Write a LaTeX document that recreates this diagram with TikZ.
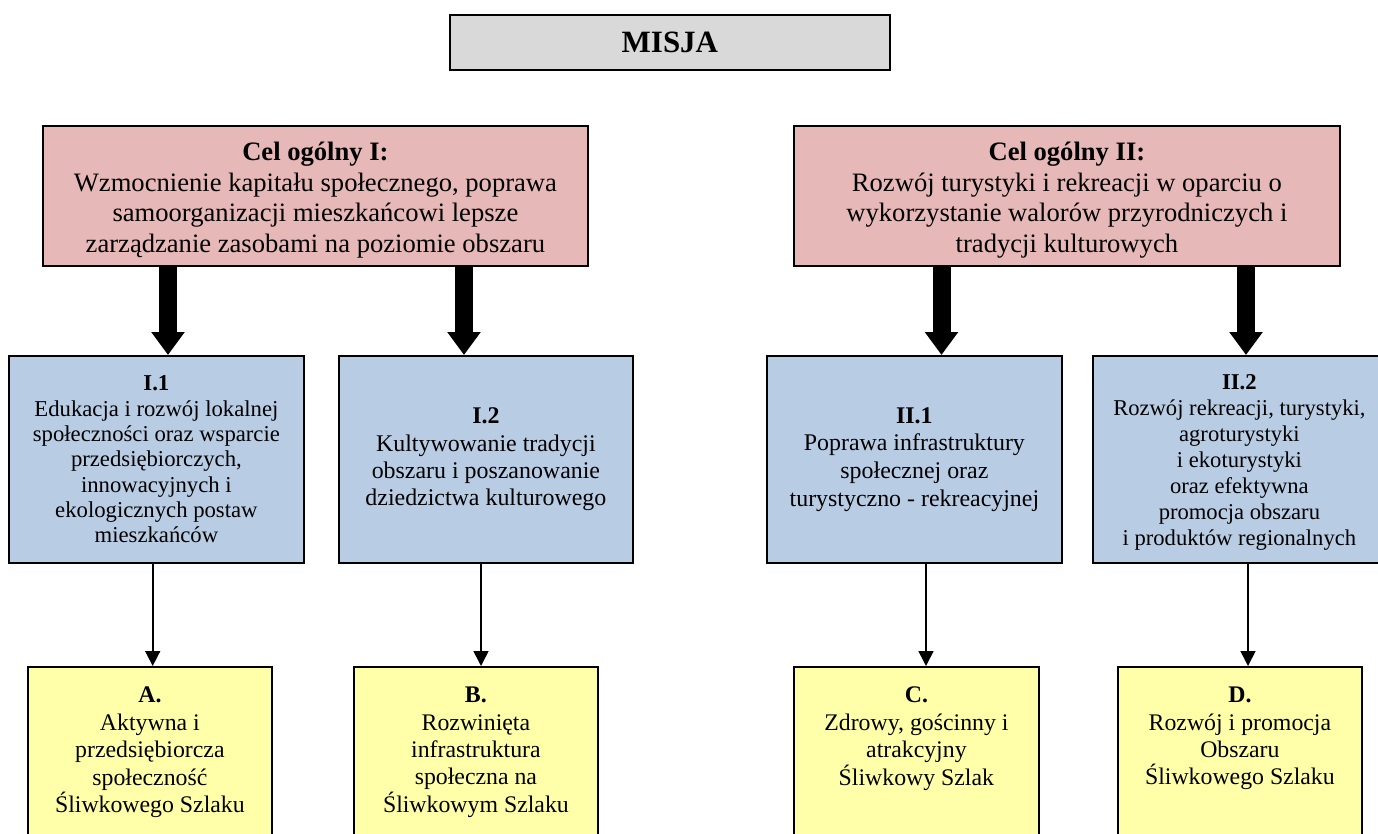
\documentclass[tikz,border=0pt]{standalone}
\usepackage{fontspec}
\setmainfont{Liberation Serif}
\usetikzlibrary{arrows.meta}
\definecolor{misjagray}{HTML}{D9D9D9}
\definecolor{celred}{HTML}{E6B8B7}
\definecolor{priblue}{HTML}{B8CCE4}
\definecolor{goalyellow}{HTML}{FFFFAA}
\begin{document}
\begin{tikzpicture}[x=1pt,y=-1pt,
  boxbase/.style={draw=black, line width=1.8pt, inner sep=0pt, align=center, anchor=north west, text=black},
  misjabox/.style={boxbase, fill=misjagray, font={\fontsize{31pt}{36pt}\selectfont\bfseries}},
  celbox/.style={boxbase, fill=celred, minimum height=140pt, font={\fontsize{26.6pt}{30.6pt}\selectfont}},
  pribox/.style={boxbase, fill=priblue, minimum height=207pt},
  goalbox/.style={boxbase, fill=goalyellow, minimum height=250pt},
  goaltext/.style={inner sep=0pt, align=center, anchor=north, text=black, font={\fontsize{23.8pt}{27.4pt}\selectfont}},
  bigarrow/.style={line width=18pt, -{Triangle[length=23pt,width=32pt]}},
  smallarrow/.style={line width=1.6pt, -{Triangle[length=15pt,width=15pt]}}]
\useasboundingbox (0,0) rectangle (1378,834);

\node[misjabox, minimum width=440pt, minimum height=55pt] (misja) at (449,14) {MISJA};

\node[celbox, minimum width=545pt] (cel1) at (42,125) {\rule{0pt}{26.6pt}\textbf{Cel ogólny I:}\\Wzmocnienie kapitału społecznego, poprawa\\samoorganizacji mieszkańcowi lepsze\\zarządzanie zasobami na poziomie obszaru};
\node[celbox, minimum width=546pt] (cel2) at (793,125) {\rule{0pt}{26.6pt}\textbf{Cel ogólny II:}\\Rozwój turystyki i rekreacji w oparciu o\\wykorzystanie walorów przyrodniczych i\\tradycji kulturowych};

\node[pribox, minimum width=295pt, font={\fontsize{22.7pt}{25.3pt}\selectfont}] (p11) at (8,355) {\textbf{I.1}\\Edukacja i rozwój lokalnej\\społeczności oraz wsparcie\\przedsiębiorczych,\\innowacyjnych i\\ekologicznych postaw\\mieszkańców};
\node[pribox, minimum width=294pt, font={\fontsize{23.9pt}{27.4pt}\selectfont}] (p12) at (338,355) {\textbf{I.2}\\Kultywowanie tradycji\\obszaru i poszanowanie\\dziedzictwa kulturowego};
\node[pribox, minimum width=295pt, font={\fontsize{23.9pt}{27.8pt}\selectfont}] (p21) at (766,355) {\textbf{II.1}\\Poprawa infrastruktury\\społecznej oraz\\turystyczno - rekreacyjnej};
\node[pribox, minimum width=293pt, font={\fontsize{22.6pt}{26.1pt}\selectfont}] (p22) at (1092,355) {\rule{0pt}{21.3pt}\textbf{II.2}\\Rozwój rekreacji, turystyki,\\agroturystyki\\i ekoturystyki\\oraz efektywna\\promocja obszaru\\i produktów regionalnych};

\node[goalbox, minimum width=244pt] (ga) at (27,666) {};
\node[goalbox, minimum width=244pt] (gb) at (353,666) {};
\node[goalbox, minimum width=245pt] (gc) at (793,666) {};
\node[goalbox, minimum width=244pt] (gd) at (1117,666) {};
\node[goaltext] (ta) at ([yshift=-21pt]ga.north) {\textbf{A.}\\Aktywna i\\przedsiębiorcza\\społeczność\\Śliwkowego Szlaku};
\node[goaltext] (tb) at ([yshift=-21pt]gb.north) {\textbf{B.}\\Rozwinięta\\infrastruktura\\społeczna na\\Śliwkowym Szlaku};
\node[goaltext] (tc) at ([yshift=-21pt]gc.north) {\textbf{C.}\\Zdrowy, gościnny i\\atrakcyjny\\Śliwkowy Szlak};
\node[goaltext] (td) at ([yshift=-21pt]gd.north) {\textbf{D.}\\Rozwój i promocja\\Obszaru\\Śliwkowego Szlaku};

\coordinate (xb1) at (168,0);
\coordinate (xb2) at (464,0);
\coordinate (xb3) at (941.5,0);
\coordinate (xb4) at (1246,0);
\draw[bigarrow] (cel1.south -| xb1) -- (p11.north -| xb1);
\draw[bigarrow] (cel1.south -| xb2) -- (p12.north -| xb2);
\draw[bigarrow] (cel2.south -| xb3) -- (p21.north -| xb3);
\draw[bigarrow] (cel2.south -| xb4) -- (p22.north -| xb4);

\coordinate (xs1) at (152.7,0);
\coordinate (xs2) at (481,0);
\coordinate (xs3) at (926,0);
\coordinate (xs4) at (1248,0);
\draw[smallarrow] (p11.south -| xs1) -- (ga.north -| xs1);
\draw[smallarrow] (p12.south -| xs2) -- (gb.north -| xs2);
\draw[smallarrow] (p21.south -| xs3) -- (gc.north -| xs3);
\draw[smallarrow] (p22.south -| xs4) -- (gd.north -| xs4);
\end{tikzpicture}
\end{document}
